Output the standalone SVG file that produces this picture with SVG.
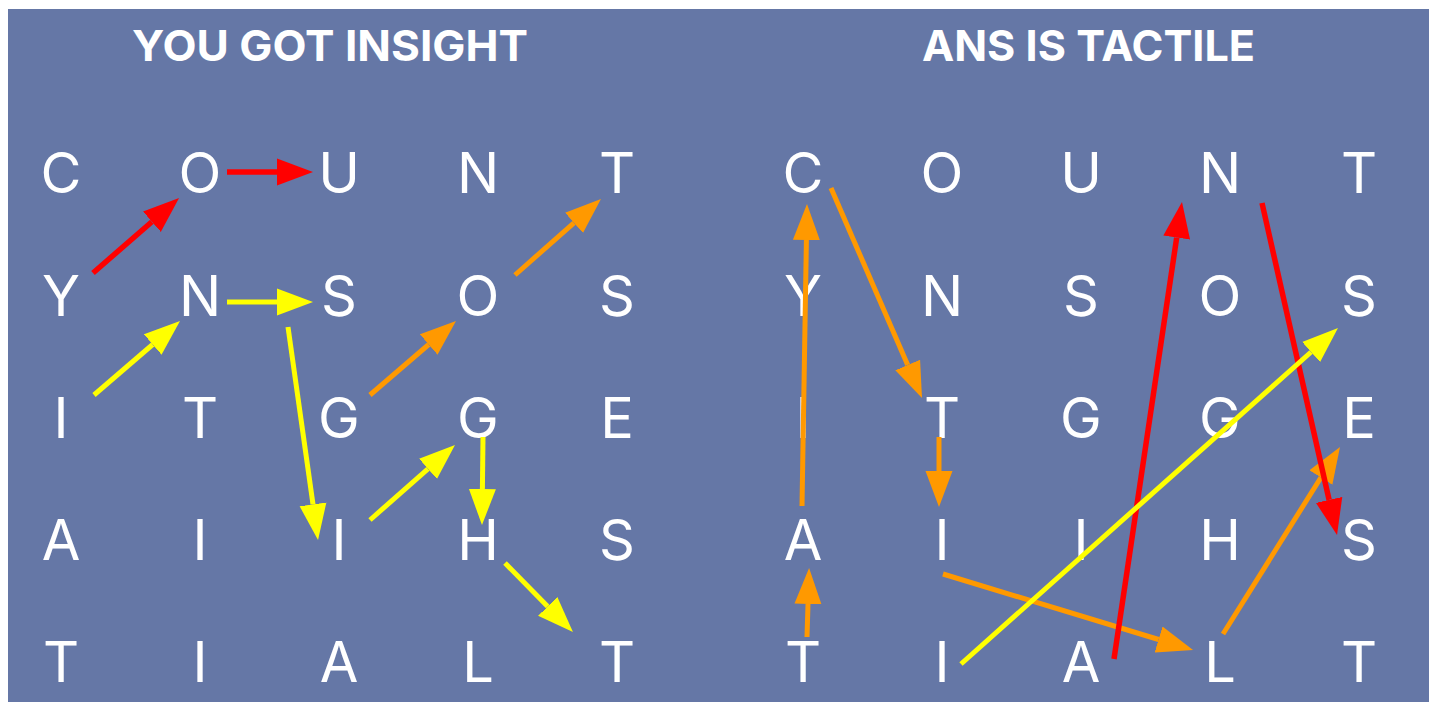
<svg xmlns="http://www.w3.org/2000/svg" width="1438" height="702" viewBox="0 0 1438 702">
<style>
.bg{fill:#6577a6}
.title{font-family:Inter,"Liberation Sans",sans-serif;font-weight:700;font-size:43px;fill:#ffffff;text-anchor:middle}
.l{font-family:Inter,"Noto Sans",sans-serif;font-weight:400;font-size:56px;fill:#ffffff;text-anchor:middle}
.r{stroke:#ff0000;stroke-width:5.5;fill:none}
.o{stroke:#ff9900;stroke-width:5;fill:none}
.y{stroke:#ffff00;stroke-width:5;fill:none}
</style>
<defs>
<marker id="hr" markerUnits="userSpaceOnUse" markerWidth="38" markerHeight="28" viewBox="0 0 38 28" refX="0" refY="14" orient="auto"><path d="M0,0.5 L36,14 L0,27.5 Z" fill="#ff0000"/></marker>
<marker id="ho" markerUnits="userSpaceOnUse" markerWidth="38" markerHeight="28" viewBox="0 0 38 28" refX="0" refY="14" orient="auto"><path d="M0,0.5 L36,14 L0,27.5 Z" fill="#ff9900"/></marker>
<marker id="hy" markerUnits="userSpaceOnUse" markerWidth="38" markerHeight="28" viewBox="0 0 38 28" refX="0" refY="14" orient="auto"><path d="M0,0.5 L36,14 L0,27.5 Z" fill="#ffff00"/></marker>
</defs>
<rect x="0" y="0" width="1438" height="702" fill="#ffffff"/>
<rect class="bg" x="8" y="9" width="1421" height="693"/>
<g id="titles">
<text id="title-left" class="title" x="330" y="61" textLength="396" lengthAdjust="spacingAndGlyphs">YOU GOT INSIGHT</text>
<text id="title-right" class="title" x="1088.5" y="61" textLength="333" lengthAdjust="spacingAndGlyphs">ANS IS TACTILE</text>
</g>
<g id="left-grid">
<g id="L-r1c1"><text class="l" x="61" y="193">C</text></g>
<g id="L-r1c2"><text class="l" x="200" y="193">O</text></g>
<g id="L-r1c3"><text class="l" x="339" y="193">U</text></g>
<g id="L-r1c4"><text class="l" x="478" y="193">N</text></g>
<g id="L-r1c5"><text class="l" x="617" y="193">T</text></g>
<g id="L-r2c1"><text class="l" x="61" y="316">Y</text></g>
<g id="L-r2c2"><text class="l" x="200" y="316">N</text></g>
<g id="L-r2c3"><text class="l" x="339" y="316">S</text></g>
<g id="L-r2c4"><text class="l" x="478" y="316">O</text></g>
<g id="L-r2c5"><text class="l" x="617" y="316">S</text></g>
<g id="L-r3c1"><text class="l" x="61" y="438">I</text></g>
<g id="L-r3c2"><text class="l" x="200" y="438">T</text></g>
<g id="L-r3c3"><text class="l" x="339" y="438">G</text></g>
<g id="L-r3c4"><text class="l" x="478" y="438">G</text></g>
<g id="L-r3c5"><text class="l" x="617" y="438">E</text></g>
<g id="L-r4c1"><text class="l" x="61" y="560">A</text></g>
<g id="L-r4c2"><text class="l" x="200" y="560">I</text></g>
<g id="L-r4c3"><text class="l" x="339" y="560">I</text></g>
<g id="L-r4c4"><text class="l" x="478" y="560">H</text></g>
<g id="L-r4c5"><text class="l" x="617" y="560">S</text></g>
<g id="L-r5c1"><text class="l" x="61" y="682">T</text></g>
<g id="L-r5c2"><text class="l" x="200" y="682">I</text></g>
<g id="L-r5c3"><text class="l" x="339" y="682">A</text></g>
<g id="L-r5c4"><text class="l" x="478" y="682">L</text></g>
<g id="L-r5c5"><text class="l" x="617" y="682">T</text></g>
</g>
<g id="right-grid">
<g id="R-r1c1"><text class="l" x="803" y="193">C</text></g>
<g id="R-r1c2"><text class="l" x="942" y="193">O</text></g>
<g id="R-r1c3"><text class="l" x="1081" y="193">U</text></g>
<g id="R-r1c4"><text class="l" x="1220" y="193">N</text></g>
<g id="R-r1c5"><text class="l" x="1359" y="193">T</text></g>
<g id="R-r2c1"><text class="l" x="803" y="316">Y</text></g>
<g id="R-r2c2"><text class="l" x="942" y="316">N</text></g>
<g id="R-r2c3"><text class="l" x="1081" y="316">S</text></g>
<g id="R-r2c4"><text class="l" x="1220" y="316">O</text></g>
<g id="R-r2c5"><text class="l" x="1359" y="316">S</text></g>
<g id="R-r3c1"><text class="l" x="803" y="438">I</text></g>
<g id="R-r3c2"><text class="l" x="942" y="438">T</text></g>
<g id="R-r3c3"><text class="l" x="1081" y="438">G</text></g>
<g id="R-r3c4"><text class="l" x="1220" y="438">G</text></g>
<g id="R-r3c5"><text class="l" x="1359" y="438">E</text></g>
<g id="R-r4c1"><text class="l" x="803" y="560">A</text></g>
<g id="R-r4c2"><text class="l" x="942" y="560">I</text></g>
<g id="R-r4c3"><text class="l" x="1081" y="560">I</text></g>
<g id="R-r4c4"><text class="l" x="1220" y="560">H</text></g>
<g id="R-r4c5"><text class="l" x="1359" y="560">S</text></g>
<g id="R-r5c1"><text class="l" x="803" y="682">T</text></g>
<g id="R-r5c2"><text class="l" x="942" y="682">I</text></g>
<g id="R-r5c3"><text class="l" x="1081" y="682">A</text></g>
<g id="R-r5c4"><text class="l" x="1220" y="682">L</text></g>
<g id="R-r5c5"><text class="l" x="1359" y="682">T</text></g>
</g>
<g id="connectors">
<line class="r" x1="93" y1="273" x2="151.9" y2="221.7" marker-end="url(#hr)"/>
<line class="r" x1="227" y1="172" x2="277" y2="172" marker-end="url(#hr)"/>
<line class="o" x1="515" y1="275" x2="574" y2="222.8" marker-end="url(#ho)"/>
<line class="o" x1="370" y1="395" x2="428.7" y2="344.5" marker-end="url(#ho)"/>
<line class="y" x1="94" y1="395" x2="152.7" y2="344.5" marker-end="url(#hy)"/>
<line class="y" x1="227" y1="302" x2="277" y2="302" marker-end="url(#hy)"/>
<line class="y" x1="288" y1="327" x2="313" y2="504.4" marker-end="url(#hy)"/>
<line class="y" x1="370" y1="520" x2="428" y2="468.8" marker-end="url(#hy)"/>
<line class="y" x1="483" y1="437" x2="482.4" y2="489" marker-end="url(#hy)"/>
<line class="y" x1="505" y1="563" x2="547.7" y2="606.4" marker-end="url(#hy)"/>
<line class="o" x1="802" y1="506" x2="806.4" y2="240" marker-end="url(#ho)"/>
<line class="o" x1="831" y1="188" x2="907.7" y2="365" marker-end="url(#ho)"/>
<line class="o" x1="939" y1="437" x2="939" y2="471" marker-end="url(#ho)"/>
<line class="o" x1="807" y1="637" x2="808" y2="604" marker-end="url(#ho)"/>
<line class="o" x1="943" y1="574" x2="1158.6" y2="639.5" marker-end="url(#ho)"/>
<line class="o" x1="1223" y1="634" x2="1320.9" y2="477.5" marker-end="url(#ho)"/>
<line class="r" x1="1114" y1="659" x2="1176.7" y2="237.6" marker-end="url(#hr)"/>
<line class="r" x1="1262" y1="203" x2="1329.1" y2="499.9" marker-end="url(#hr)"/>
<line class="y" x1="961" y1="664" x2="1311.1" y2="352" marker-end="url(#hy)"/>
</g>
</svg>
